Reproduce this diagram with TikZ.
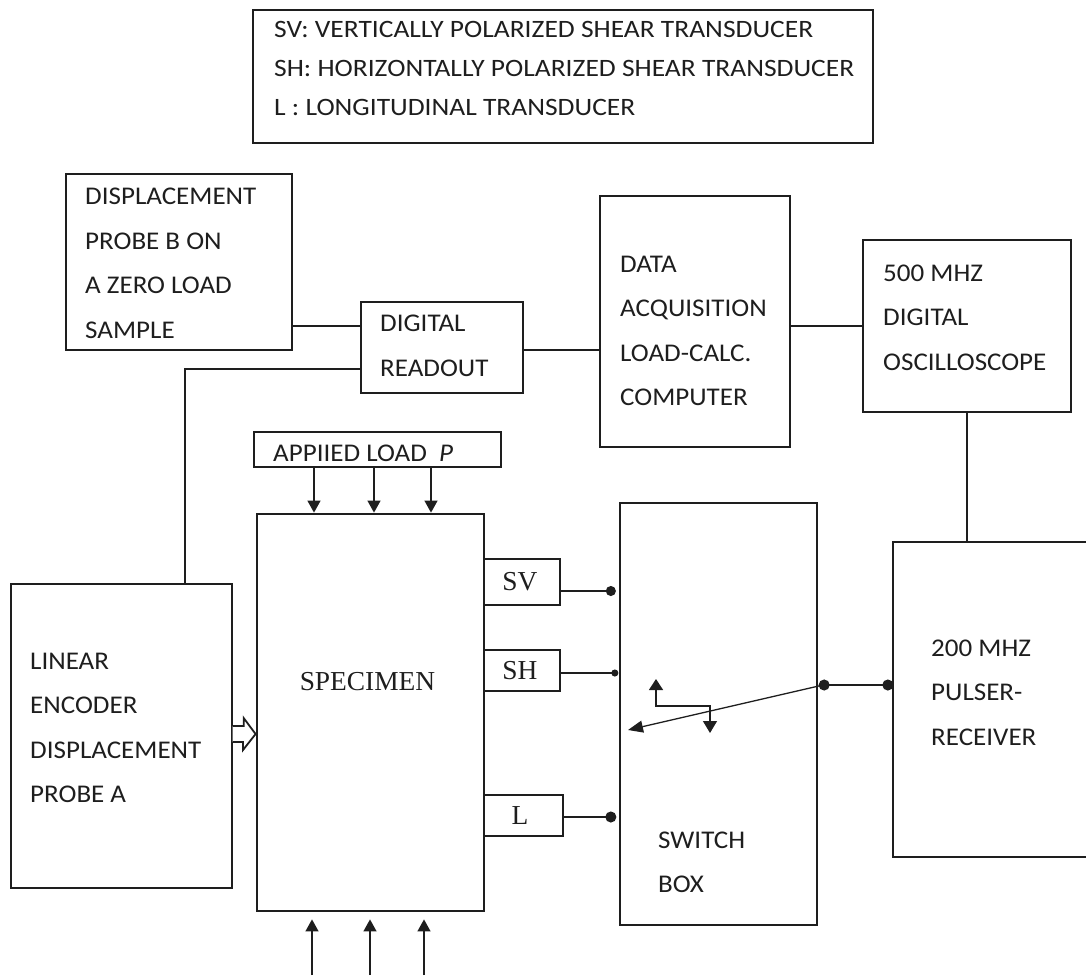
\documentclass[tikz,border=0pt]{standalone}
\usepackage{fontspec}
\setmainfont{Carlito}[FakeStretch=1.06]
\newfontfamily\keyfont{Carlito}[FakeStretch=1.10]
\newfontfamily\romfont{Liberation Serif}
\usetikzlibrary{arrows.meta, calc}
\definecolor{inkline}{HTML}{1E1E1E}
\tikzset{
  blk/.style     = {rectangle, draw=inkline, line width=1.3pt, inner sep=0pt},
  heavyblk/.style= {blk, line width=2.8pt},
  txt/.style     = {anchor=west, align=left, inner sep=0pt, text=inkline,
                    font=\fontsize{25.5}{44.5}\selectfont},
  keytxt/.style  = {txt, font=\keyfont\fontsize{25}{39}\selectfont},
  romtxt/.style  = {inner sep=0pt, text=inkline, font=\romfont\fontsize{27.4}{30}\selectfont},
  wire/.style    = {draw=inkline, line width=1.3pt},
  loadarr/.style = {wire, -{Triangle[length=12pt, width=13pt]}},
}

\begin{document}
\begin{tikzpicture}[x=1pt, y=-1pt]
	\useasboundingbox (0,0) rectangle (1086,975);
	\clip (0,0) rectangle (1086,975);
	% key to the transducers
	\node[blk, minimum width=620, minimum height=133] (key) at (563,76.5) {};
	\node[keytxt] (keytext) at (274,68) {SV: VERTICALLY POLARIZED SHEAR TRANSDUCER\\
		SH: HORIZONTALLY POLARIZED SHEAR TRANSDUCER\\
		L : LONGITUDINAL TRANSDUCER};
	% instruments
	\node[heavyblk, minimum width=226, minimum height=176] (probeb) at (179,262) {};
	\node[blk, minimum width=162, minimum height=91]  (readout) at (442,347.5) {};
	\node[blk, minimum width=190, minimum height=251] (daq)     at (695,321.5) {};
	\node[blk, minimum width=208, minimum height=172] (scope)   at (967,326) {};
	\node[blk, minimum width=247, minimum height=35]  (load)    at (377.5,449.5) {};
	\node[blk, minimum width=221, minimum height=304] (encoder) at (121.5,736) {};
	\node[heavyblk, minimum width=227, minimum height=397] (spec) at (370.5,712.5) {};
	\node[blk, minimum width=76, minimum height=46]   (sv)      at (522,582) {};
	\node[blk, minimum width=76, minimum height=41]   (sh)      at (522,670.5) {};
	\node[blk, minimum width=79, minimum height=41]   (lbox)    at (523.5,815.5) {};
	\node[blk, minimum width=197, minimum height=422] (switch)  at (718.5,714) {};
	\node[blk, minimum width=207, minimum height=315] (pulser)  at (996.5,699.5) {};
	% box texts
	\node[txt] (probebtext)  at (85,263.5)  {DISPLACEMENT\\PROBE B ON\\A ZERO LOAD\\SAMPLE};
	\node[txt] (readouttext) at (380,346)   {DIGITAL\\READOUT};
	\node[txt] (daqtext)     at (620,331)   {DATA\\ACQUISITION\\LOAD-CALC.\\COMPUTER};
	\node[txt] (scopetext)   at (883,317.5) {500 MHZ\\DIGITAL\\OSCILLOSCOPE};
	\node[txt] (loadtext)    at (273,453)   {APPIIED LOAD\ \ \textit{P}};
	\node[txt] (encodertext) at (30,728)    {LINEAR\\ENCODER\\DISPLACEMENT\\PROBE A};
	\node[romtxt] (spectext) at (367.5,682) {SPECIMEN};
	\node[romtxt] (svtext)   at (520,582)   {SV};
	\node[romtxt] (shtext)   at (520,670.5) {SH};
	\node[romtxt] (ltext)    at (520,815.5) {L};
	\node[txt] (switchtext)  at (658,862.5) {SWITCH\\BOX};
	\node[txt] (pulsertext)  at (931,692.5) {200 MHZ\\PULSER-\\RECEIVER};
	% signal lines
	\draw[wire] (probeb.east |- 0,326) -- (readout.west |- 0,326);
	\draw[wire] (readout.west |- 0,369) -| (185,0 |- encoder.north);
	\draw[wire] (readout.east |- 0,350) -- (daq.west |- 0,350);
	\draw[wire] (daq.east |- scope.west) -- (scope.west);
	\draw[wire] (scope.south) -- (scope.south |- pulser.north);
	% applied load, top and bottom
	\coordinate (base) at (0,975);
	\foreach \x in {314,374,431}{\draw[loadarr] (\x,0 |- load.south) -- (\x,0 |- spec.north);}
	\foreach \x in {312,370,424}{\draw[loadarr] (\x,0 |- base) -- ($(\x,0 |- spec.south)+(0,7)$);}
	% encoder push arrow
	\draw[wire, line width=1.8pt, fill=white] (encoder.east |- 0,726) -- ++(11,0) -- ++(0,-8)
		-- (spec.west |- 0,734) -- (243,750) -- ++(0,-8) -- (encoder.east |- 0,742);
	% transducers to switch box
	\foreach \t/\y/\d/\s in {sv/591/10/3.5, sh/673/7/1, lbox/817/11/3}{
		\draw[wire, -{Circle[length=\d pt]}] (\t.east |- 0,\y) -- ([xshift=-\s pt]switch.west |- 0,\y);}
	\draw[wire, {Circle[length=11pt]}-{Circle[length=11pt]}]
		([xshift=1pt]switch.east |- 0,685) -- ([xshift=1pt]pulser.west |- 0,685);
	% switch arm and selector
	\coordinate (pole) at (823,685);
	\coordinate (throw) at (628,730);
	\draw[wire, -{Triangle[length=15pt, width=12pt]}] (pole) -- (throw);
	\draw[wire, {Triangle[length=11pt, width=14pt]}-{Triangle[length=12pt, width=14pt]}]
		(656,679) |- (710,706) -- (710,733);
\end{tikzpicture}
\end{document}
